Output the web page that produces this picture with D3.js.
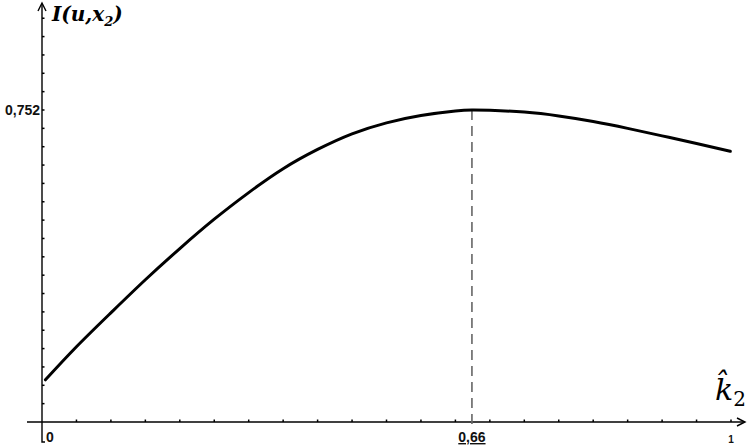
<!DOCTYPE html>
<html>
<head>
<meta charset="utf-8">
<script src="https://cdn.jsdelivr.net/npm/d3@7"></script>
<style>
  body { margin: 0; background: #fff; }
  svg { display: block; }
</style>
</head>
<body>
<div id="chart"></div>
<script>
// curve samples (k2 position, I value)
const kValues = [0.005, 0.05, 0.1, 0.15, 0.2, 0.25, 0.3, 0.35, 0.4, 0.45, 0.5,
  0.55, 0.6, 0.624, 0.65, 0.7, 0.75, 0.8, 0.85, 0.9, 0.95, 0.999];
const iValues = [0.458, 0.494, 0.531, 0.567, 0.601, 0.633, 0.662, 0.688, 0.709, 0.726, 0.738,
  0.746, 0.751, 0.752, 0.7517, 0.7497, 0.7455, 0.7395, 0.732, 0.7238, 0.7155, 0.707];

const peakK = 0.624;
const peakI = 0.752;
const xTickLabels = [
  { v: 0, text: "0" },
  { v: peakK, text: "0,66" },
  { v: 1, text: "1" },
];
const yTickLabels = [{ v: peakI, text: "0,752" }];

const width = 750, height = 447;
const margin = { left: 42, right: 19, top: 5, bottom: 25 };

const svg = d3.select("#chart").append("svg")
  .attr("width", width).attr("height", height);

const x = d3.scaleLinear().domain([0, 1]).range([margin.left, width - margin.right]);
// axis origin sits at 0.412, ticks every 0.02
const y = d3.scaleLinear().domain([0.412, 0.752]).range([height - margin.bottom, 110]);

const x0 = x(0), y0 = y(0.412);

// minor ticks
const xMinor = d3.range(1, 21).map(i => i * 0.05);
svg.selectAll(".xt").data(xMinor).enter().append("line")
  .attr("x1", d => x(d)).attr("x2", d => x(d))
  .attr("y1", y0).attr("y2", y0 - 2.5)
  .attr("stroke", "#000").attr("stroke-width", 1.5);

const yMinor = d3.range(1, 23).map(i => 0.412 + i * 0.02);
svg.selectAll(".yt").data(yMinor).enter().append("line")
  .attr("x1", x0).attr("x2", x0 + 2.5)
  .attr("y1", d => y(d)).attr("y2", d => y(d))
  .attr("stroke", "#000").attr("stroke-width", 1.5);

// axes
svg.append("line")
  .attr("x1", 27).attr("x2", 744).attr("y1", y0).attr("y2", y0)
  .attr("stroke", "#000").attr("stroke-width", 1.4);
svg.append("path")
  .attr("d", `M737,${y0 - 4} L745,${y0} L737,${y0 + 4}`)
  .attr("fill", "none").attr("stroke", "#000").attr("stroke-width", 1.4);

svg.append("path")
  .attr("d", `M${x0},4 L${x0},442 L${x0 + 3},442`)
  .attr("fill", "none").attr("stroke", "#000").attr("stroke-width", 1.4);
svg.append("path")
  .attr("d", `M${x0 - 4},11 L${x0},3 L${x0 + 4},11`)
  .attr("fill", "none").attr("stroke", "#000").attr("stroke-width", 1.4);

// dashed drop line at the maximum
svg.append("line")
  .attr("x1", x(peakK)).attr("x2", x(peakK))
  .attr("y1", y(peakI)).attr("y2", y0 + 5)
  .attr("stroke", "#666").attr("stroke-width", 1.6)
  .attr("stroke-dasharray", "10,6");

// curve
const pts = kValues.map((k, i) => [k, iValues[i]]);
const line = d3.line()
  .x(d => x(d[0]))
  .y(d => y(d[1]))
  .curve(d3.curveNatural);

svg.append("path")
  .datum(pts)
  .attr("fill", "none")
  .attr("stroke", "#000")
  .attr("stroke-width", 3)
  .attr("stroke-linecap", "round")
  .attr("d", line);

// tick labels
const sans = "Liberation Sans, Arial, sans-serif";
svg.selectAll(".xl").data(xTickLabels).enter().append("text")
  .attr("x", d => d.v === 0 ? x0 + 8 : x(d.v))
  .attr("y", d => d.v === 1 ? 443 : 442)
  .attr("text-anchor", "middle")
  .attr("font-family", sans)
  .attr("font-size", d => d.v === 1 ? 10 : 14)
  .attr("font-weight", "bold")
  .attr("fill", "#111")
  .style("text-decoration", d => d.v === peakK ? "underline" : null)
  .text(d => d.text);

svg.selectAll(".yl").data(yTickLabels).enter().append("text")
  .attr("x", x0 - 2)
  .attr("y", d => y(d.v) + 5)
  .attr("text-anchor", "end")
  .attr("font-family", sans)
  .attr("font-size", 14)
  .attr("font-weight", "bold")
  .attr("fill", "#111")
  .text(d => d.text);

// axis titles
const serif = "DejaVu Serif, Liberation Serif, serif";
const yTitle = svg.append("text")
  .attr("x", 52).attr("y", 21)
  .attr("font-family", serif)
  .attr("font-size", 20)
  .attr("font-weight", "bold")
  .attr("font-style", "italic");
yTitle.append("tspan").text("I(u,x");
yTitle.append("tspan").attr("font-size", 13).attr("dy", 5).text("2");
yTitle.append("tspan").attr("dy", -5).text(")");

const xTitle = svg.append("text")
  .attr("x", 715).attr("y", 400)
  .attr("font-family", serif)
  .attr("font-size", 30)
  .attr("font-style", "italic");
xTitle.append("tspan").text("k\u0302");
xTitle.append("tspan").attr("font-size", 20).attr("dy", 6).attr("font-style", "normal").text("2");
</script>
</body>
</html>
